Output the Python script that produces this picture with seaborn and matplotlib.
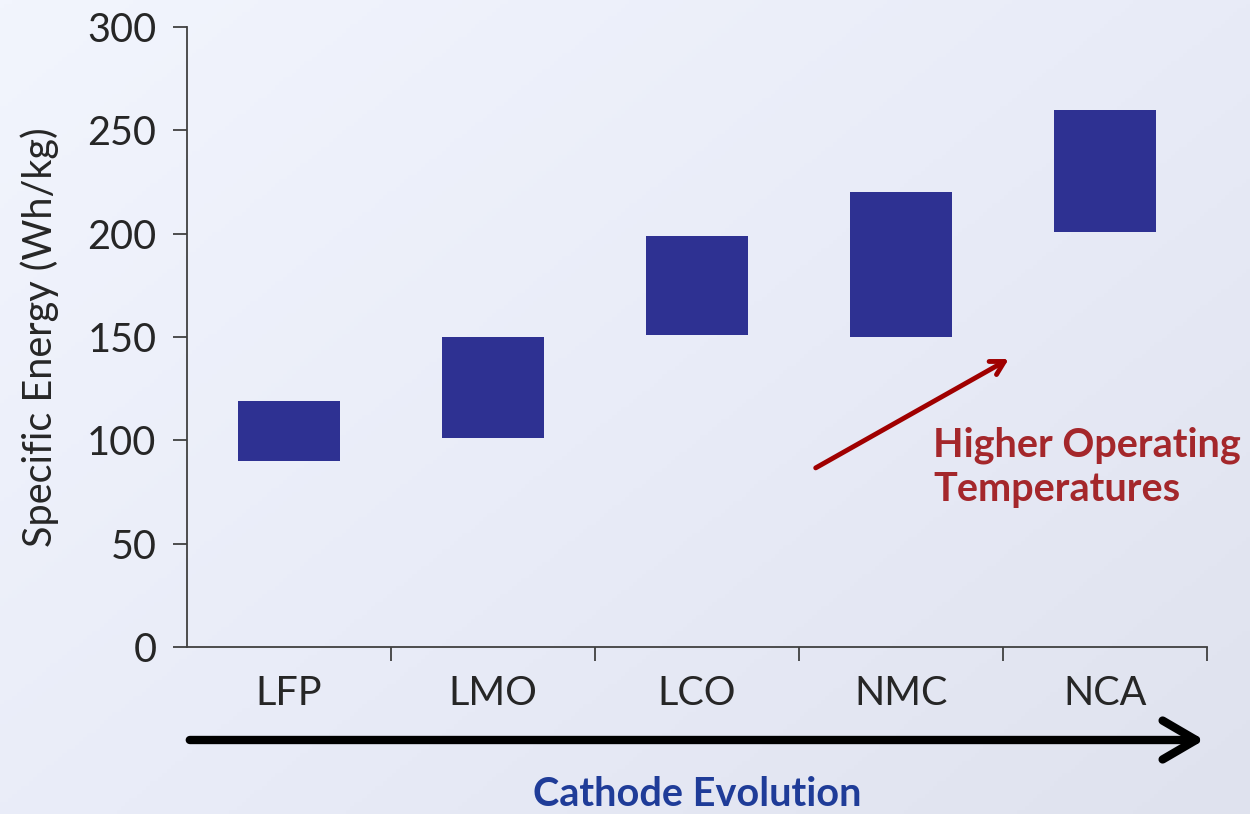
import numpy as np
import pandas as pd
import matplotlib
matplotlib.use("Agg")
import matplotlib.pyplot as plt
from matplotlib.colors import LinearSegmentedColormap
import seaborn as sns

cathodes = ["LFP", "LMO", "LCO", "NMC", "NCA"]
energy_low = [90, 101, 151, 150, 201]
energy_high = [119, 150, 199, 220, 260]
y_ticks = [0, 50, 100, 150, 200, 250, 300]

df = pd.DataFrame({
    "cathode": cathodes,
    "low": energy_low,
    "high": energy_high,
})
df["span"] = df["high"] - df["low"]

sns.set_theme(style="white")
plt.rcParams["font.family"] = ["Lato", "DejaVu Sans"]
FS = 28.5

fig = plt.figure(figsize=(12.5, 8.14), dpi=100)

# soft gradient backdrop
bg = fig.add_axes([0, 0, 1, 1], zorder=-10)
gx, gy = np.meshgrid(np.linspace(0, 1, 300), np.linspace(0, 1, 200))
grad = 0.55 * gx + 0.45 * gy
cmap = LinearSegmentedColormap.from_list("bg", ["#f2f5fd", "#e9ecf8", "#dfe2ee"])
bg.imshow(grad, cmap=cmap, aspect="auto", extent=[0, 1, 0, 1], origin="upper")
bg.axis("off")

ax = fig.add_axes([0.1496, 0.2052, 0.8160, 0.7616])
ax.set_facecolor("none")

sns.barplot(data=df, x="cathode", y="span", color="#2e3192", width=0.5,
            saturation=1, linewidth=0, edgecolor="none", ax=ax)
# float each bar up to its lower bound
for patch, lo in zip(ax.patches, df["low"]):
    patch.set_y(lo)

ax.set_ylim(0, 300)
ax.set_xlim(-0.5, 4.5)
ax.set_yticks(y_ticks)
ax.set_xticks(range(len(cathodes)))
ax.set_xticklabels(cathodes)
ax.set_xticks(np.arange(-0.5, 5, 1)[1:], minor=True)

for side in ["top", "right"]:
    ax.spines[side].set_visible(False)
for side in ["left", "bottom"]:
    ax.spines[side].set_color("#404040")
    ax.spines[side].set_linewidth(1.3)

ax.tick_params(axis="y", direction="out", length=10, width=1.3, color="#404040",
               labelsize=FS, pad=12, left=True)
ax.tick_params(axis="x", which="major", length=0, labelsize=FS, pad=20)
ax.tick_params(axis="x", which="minor", direction="out", length=10, width=1.3,
               color="#404040", bottom=True)

ax.set_xlabel("")
ax.set_ylabel("Specific Energy (Wh/kg)", fontsize=FS, labelpad=20)

# cathode evolution arrow
fig.patches.append(matplotlib.patches.FancyArrowPatch(
    (187 / 1250, 1 - 740 / 814), (1207 / 1250, 1 - 740 / 814),
    transform=fig.transFigure, arrowstyle="->,head_length=1.2,head_width=0.7",
    color="black", lw=6, mutation_scale=20))
fig.text(697 / 1250, 1 - 795 / 814, "Cathode Evolution", ha="center", va="center",
         fontsize=FS, fontweight="bold", color="#1f3c98")

# temperature arrow
ax.annotate("", xy=(3.54, 140), xytext=(2.57, 86),
            arrowprops=dict(arrowstyle="->,head_length=0.8,head_width=0.45",
                            color="#a00000", lw=3.5))
fig.text(933 / 1250, 1 - 467 / 814, "Higher Operating\nTemperatures", ha="left",
         va="center", fontsize=FS, fontweight="bold", color="#a4272b",
         linespacing=1.25)

fig.savefig("out.png", dpi=100)
